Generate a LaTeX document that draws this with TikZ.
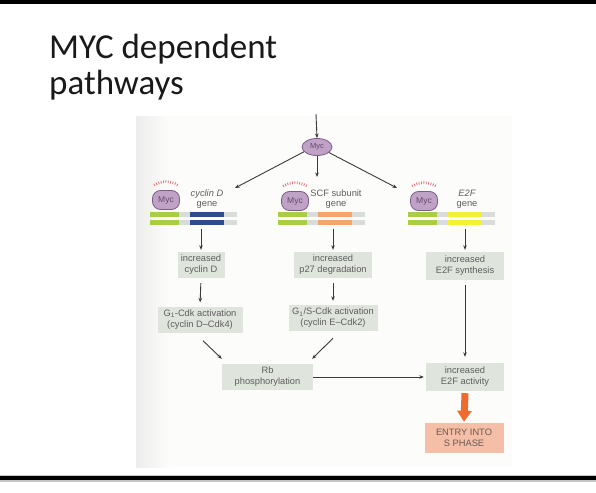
\documentclass[tikz,border=0pt]{standalone}
\usepackage{fontspec}
\newfontfamily\tfont{Carlito}
\newfontfamily\dfont{Liberation Sans}
\usetikzlibrary{arrows.meta,calc,shapes.geometric}
\definecolor{boxc}{HTML}{DFE4DC}
\definecolor{txtc}{HTML}{5E5E5E}
\definecolor{mycf}{HTML}{BFA2C6}
\definecolor{mycd}{HTML}{7E5C88}
\definecolor{greenb}{HTML}{A9CD45}
\definecolor{blueb}{HTML}{2E4E87}
\definecolor{orangeb}{HTML}{F4A46E}
\definecolor{yellowb}{HTML}{F6F032}
\definecolor{greyb}{HTML}{D9DDD9}
\definecolor{redd}{HTML}{E0707A}
\definecolor{fatc}{HTML}{EC6B2D}
\definecolor{entryc}{HTML}{F5BEA6}
\definecolor{entryt}{HTML}{6A5A55}
\definecolor{panelc}{HTML}{FCFCFA}
\definecolor{arrc}{HTML}{3A3A3A}
\begin{document}
\begin{tikzpicture}[x=1pt,y=-1pt,
  title/.style={font=\tfont\fontsize{35}{37}\selectfont, text=black!90, inner sep=0pt, anchor=base west},
  box/.style={rectangle, fill=boxc, text=txtc, font=\dfont\fontsize{9.3}{11}\selectfont, align=center, inner sep=0pt},
  glabel/.style={text=txtc, font=\dfont\fontsize{9.3}{10}\selectfont, align=center, inner sep=0pt},
  mycb/.style={draw=mycd, fill=mycf, line width=0.8pt, rounded corners=8pt, minimum width=27pt, minimum height=19pt, inner sep=0pt, text=mycd!80!black, font=\dfont\fontsize{8.5}{9}\selectfont},
  myce/.style={ellipse, draw=mycd, fill=mycf, line width=0.8pt, minimum width=30pt, minimum height=17pt, inner sep=0pt, text=mycd!80!black, font=\dfont\fontsize{7.5}{8}\selectfont},
  arr/.style={draw=arrc, line width=0.9pt, -{Stealth[length=4.5pt,width=3.6pt]}},
  reddash/.style={draw=redd, line width=2.6pt, dash pattern=on 0.8pt off 1.6pt},
  fat/.style={draw=fatc, line width=7pt, -{Triangle[length=11pt,width=14pt]}}
]
\useasboundingbox (0,0) rectangle (596,492);
\fill[white] (0,0) rectangle (596,492);
% slide borders
\fill[black] (0,0) rectangle (596,4);
\fill[gray!45] (0,474.5) rectangle (596,481.5);
\fill[black] (0,476) rectangle (596,480);
% title
\node[title] (t1) at (49,59) {MYC dependent};
\node[title] (t2) at (49,95) {pathways};
% panel
\fill[panelc] (136,116) rectangle (512,467);
\shade[left color=gray!14, right color=panelc] (136,116) rectangle (170,467);
% gene bars
\foreach \L/\col in {150/blueb, 278/orangeb, 408/yellowb}{
  \foreach \y in {212,219.5}{
    \fill[greenb] (\L,\y) rectangle ++(29,5);
    \fill[greyb] (\L+29,\y) rectangle ++(11,5);
    \fill[\col] (\L+40,\y) rectangle ++(34,5);
    \fill[greyb] (\L+74,\y) rectangle ++(13,5);
  }
}
% Myc blobs on genes
\node[mycb] (m1) at (166,200) {Myc};
\node[mycb] (m2) at (295,201) {Myc};
\node[mycb] (m3) at (424,201) {Myc};
\foreach \m in {m1,m2,m3}{
  \draw[reddash] ($(\m.north west)+(2,-5)$) to[bend left=30] ($(\m.north east)+(-2,-5)$);
}
% gene labels
\node[glabel] (g1) at (207,199) {\itshape cyclin D\\gene};
\node[glabel] (g2) at (336,199) {SCF subunit\\gene};
\node[glabel] (g3) at (467,199) {\itshape E2F\\\upshape gene};
% top Myc
\node[myce] (mt) at (317,147) {Myc};
\coordinate (in) at (316,114);
\coordinate (ea) at (235,188);
\coordinate (eb) at (317,177);
\coordinate (ec) at (397,188);
\draw[arr] (in) -- (mt.north);
\draw[arr] (mt.200) -- (ea);
\draw[arr] (mt.south) -- (eb);
\draw[arr] (mt.-25) -- (ec);
% boxes
\node[box, minimum width=47pt, minimum height=26pt] (a1) at (201,265) {increased\\cyclin D};
\node[box, minimum width=78pt, minimum height=26pt] (b1) at (333,265) {increased\\p27 degradation};
\node[box, minimum width=78pt, minimum height=28pt] (c1) at (465,266) {increased\\E2F synthesis};
\node[box, minimum width=85pt, minimum height=26pt] (a2) at (200,319.5) {G\textsubscript{1}-Cdk activation\\(cyclin D–Cdk4)};
\node[box, minimum width=89pt, minimum height=26pt] (b2) at (333,318) {G\textsubscript{1}/S-Cdk activation\\(cyclin E–Cdk2)};
\node[box, minimum width=91pt, minimum height=26pt] (rb) at (267.5,377) {Rb\\phosphorylation};
\node[box, minimum width=78pt, minimum height=28pt] (c2) at (465,377) {increased\\E2F activity};
\node[box, fill=entryc, text=entryt, minimum width=79pt, minimum height=30pt] (s) at (464,438) {ENTRY INTO\\S PHASE};
% gene bar bottoms
\coordinate (ga) at (201,229);
\coordinate (gb) at (333,229);
\coordinate (gc) at (465,229);
\draw[arr, shorten >=2pt] (ga) -- (a1.north);
\draw[arr, shorten >=2pt] (gb) -- (b1.north);
\draw[arr, shorten >=2pt] (gc) -- (c1.north);
\draw[arr, shorten <=5pt, shorten >=4pt] (a1.south) -- (a2.north);
\draw[arr, shorten <=5pt, shorten >=4pt] (b1.south) -- (b2.north);
\draw[arr] ($(a2.south)+(3,8)$) -- ($(rb.north west)+(0,-5)$);
\draw[arr] ($(b2.south)+(0,7)$) -- ($(rb.north east)+(-1,-5)$);
\draw[arr, shorten <=5pt, shorten >=6pt] (c1.south) -- (c2.north);
\draw[arr, shorten >=2pt] (rb.east) -- (c2.west);
\draw[fat] ($(c2.south)+(0,2)$) -- ($(s.north)+(0,-1)$);
\end{tikzpicture}
\end{document}
